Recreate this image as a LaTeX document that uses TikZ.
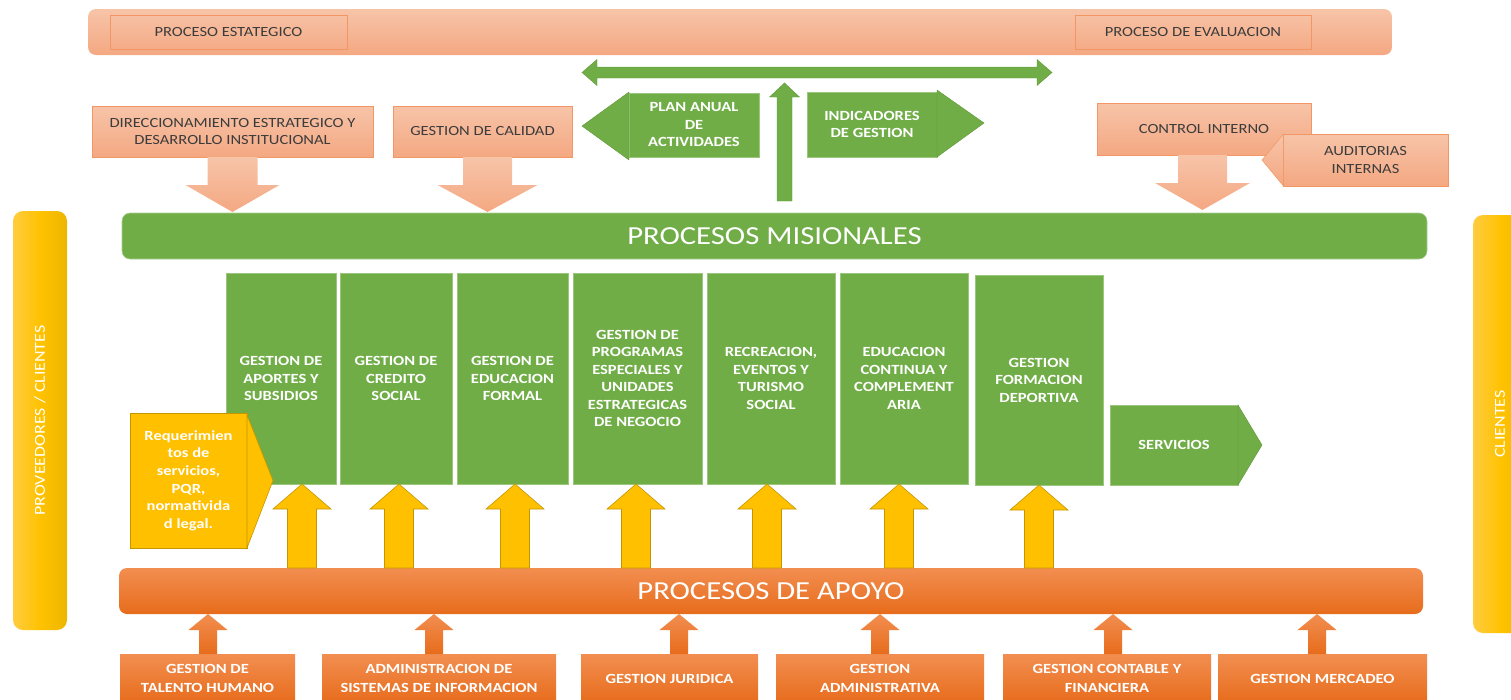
\documentclass[tikz,border=0pt]{standalone}
\usepackage{fontspec}
\setmainfont{Carlito}[FakeStretch=1.18]
\usetikzlibrary{calc}
\definecolor{grn}{RGB}{112,173,71}
\definecolor{grnE}{RGB}{96,152,58}
\definecolor{ylw}{RGB}{255,192,0}
\definecolor{ylwE}{RGB}{196,150,0}
\definecolor{salT}{RGB}{247,196,168}
\definecolor{salB}{RGB}{244,168,130}
\definecolor{salE}{RGB}{241,150,100}
\definecolor{orT}{RGB}{242,142,80}
\definecolor{orB}{RGB}{231,108,28}
\definecolor{dtx}{RGB}{60,60,60}
\definecolor{yL}{RGB}{255,204,64}
\definecolor{yM}{RGB}{255,194,0}
\definecolor{yR}{RGB}{236,182,0}
\newcommand\vblock[6]{\path[#1] ($(#2)+(-#4,0)$) -- ($(#3)+(-#4,#6)$) -- ($(#3)+(-#5,#6)$) -- (#3) -- ($(#3)+(#5,#6)$) -- ($(#3)+(#4,#6)$) -- ($(#2)+(#4,0)$) -- cycle;}
% \bx{style}{name}{x1}{y1}{x2}{y2}{text}
\newcommand\bx[7]{\node[#1,minimum width={#5pt-#3pt},minimum height={#6pt-#4pt}] (#2) at ({(#3+#5)/2},{(#4+#6)/2}) {#7};}
\begin{document}
\begin{tikzpicture}[x=1pt,y=-1pt,
  every node/.style={inner sep=0pt,outer sep=0pt,align=center},
  salbox/.style={top color=salT,bottom color=salB,draw=salE,line width=0.5pt,text=dtx,font=\fontsize{14}{17.5}\selectfont},
  gbox/.style={fill=grn,draw=grn!70!white,line width=0.5pt,text=white,font=\bfseries\fontsize{14}{17.5}\selectfont},
  ybox/.style={fill=ylw,draw=ylwE,line width=0.6pt,text=white,font=\bfseries\fontsize{14}{17.6}\selectfont},
  obox/.style={top color=orT,bottom color=orB,text=white,font=\bfseries\fontsize{14}{18.5}\selectfont},
  salarr/.style={top color=salT,bottom color=salB},
  orarr/.style={top color=orT,bottom color=orB},
  yarr/.style={fill=ylw,draw=ylwE,line width=0.6pt},
  garr/.style={fill=grn,draw=grnE,line width=0.4pt},
  bigt/.style={text=white,font=\fontsize{26}{30}\selectfont},
  sidet/.style={text=white,font=\fontsize{15.2}{18}\selectfont},
  ybar/.style={left color=yL,right color=yR,middle color=yM,rounded corners=10pt},
  inbox/.style={draw=salE,line width=0.6pt,text=dtx,font=\fontsize{14}{17}\selectfont},
]
\useasboundingbox (0,0) rectangle (1511,699);

% strategic bar
\bx{salbox,draw=none,rounded corners=8pt}{topbar}{88}{9}{1392}{55}{}
\bx{inbox}{pest}{110}{15}{347}{49}{PROCESO ESTATEGICO}
\bx{inbox}{peval}{1075}{15}{1311}{49}{PROCESO DE EVALUACION}

% double arrow
\coordinate (dl) at (582,72.5);
\coordinate (dr) at (1052,72.5);
\path[garr] (dl) -- ++(15,-13) -- ++(0,7.5) -- ($(dr)+(-15,-5.5)$) -- ++(0,-7.5) -- (dr) -- ++(-15,13) -- ++(0,-7.5) -- ($(dl)+(15,5.5)$) -- ++(0,7.5) -- cycle;

% up arrow
\coordinate (ub) at (784.5,201);
\coordinate (ut) at (784.5,83);
\vblock{garr}{ub}{ut}{7.5}{15}{14}

% plan / indicadores
\bx{gbox}{plan}{629}{93}{759}{157}{PLAN ANUAL\\DE\\ACTIVIDADES}
\path[garr] ($(plan.north west)+(0,-1)$) -- ($(plan.west)+(-47,1)$) -- ($(plan.south west)+(0,3)$) -- cycle;
\bx{gbox}{ind}{807}{92}{937}{157}{INDICADORES\\DE GESTION}
\path[garr] ($(ind.north east)+(0,-2)$) -- ($(ind.east)+(47,-1.5)$) -- (ind.south east) -- cycle;

% strategic process boxes
\bx{salbox}{dir}{92}{106}{373}{157}{DIRECCIONAMIENTO ESTRATEGICO Y\\DESARROLLO INSTITUCIONAL}
\bx{salbox}{cal}{393}{106}{572}{157}{GESTION DE CALIDAD}
\bx{salbox}{ctrl}{1097}{103}{1311}{155}{CONTROL INTERNO}
\bx{salbox}{aud}{1283}{134}{1448}{186}{AUDITORIAS\\INTERNAS}
\path[salarr] ($(aud.north west)+(0,0.5)$) -- ($(aud.west)+(-21,0)$) -- ($(aud.south west)+(0,-0.5)$) -- cycle;
\draw[salE,line width=0.5pt] ($(aud.north west)+(0,0.5)$) -- ($(aud.west)+(-21,0)$) -- ($(aud.south west)+(0,-0.5)$);

% misionales bar
\bx{fill=grn,draw=grn!60!white,line width=0.6pt,rounded corners=8pt,bigt}{mis}{122}{213}{1427}{259}{PROCESOS MISIONALES}

% salmon down arrows
\coordinate (d1b) at (dir.south);
\coordinate (d1t) at ($(d1b |- mis.north)+(0,-1)$);
\vblock{salarr}{d1b}{d1t}{25}{47}{-27}
\coordinate (d2b) at ($(cal.south)+(5,0)$);
\coordinate (d2t) at ($(d2b |- mis.north)+(0,-1)$);
\vblock{salarr}{d2b}{d2t}{24.5}{50}{-27}
\coordinate (d3b) at ($(ctrl.south)+(-1.5,0)$);
\coordinate (d3t) at ($(d3b |- mis.north)+(0,-3)$);
\vblock{salarr}{d3b}{d3t}{24.5}{47.5}{-27}

% side bars
\bx{ybar}{lbar}{13}{211}{67}{630}{}
\node[rotate=90,sidet] (ltx) at (lbar.center) {PROVEEDORES / CLIENTES};
\bx{ybar}{rbar}{1473}{215}{1530}{633}{}
\node[rotate=90,sidet] (rtx) at ($(rbar.center)+(-1.5,0)$) {CLIENTES};

% mission boxes
\bx{gbox}{m1}{226}{273}{336}{484}{GESTION DE\\APORTES Y\\SUBSIDIOS}
\bx{gbox}{m2}{340}{273}{452}{484}{GESTION DE\\CREDITO\\SOCIAL}
\bx{gbox}{m3}{457}{273}{568}{484}{GESTION DE\\EDUCACION\\FORMAL}
\bx{gbox}{m4}{573}{273}{702}{484}{GESTION DE\\PROGRAMAS\\ESPECIALES Y\\UNIDADES\\ESTRATEGICAS\\DE NEGOCIO}
\bx{gbox}{m5}{707}{273}{835}{484}{RECREACION,\\EVENTOS Y\\TURISMO\\SOCIAL}
\bx{gbox}{m6}{840}{273}{968}{484}{EDUCACION\\CONTINUA Y\\COMPLEMENT\\ARIA}
\bx{gbox}{m7}{975}{275}{1103}{485}{GESTION\\FORMACION\\DEPORTIVA}
\bx{gbox}{serv}{1110}{405}{1238}{485}{SERVICIOS}
\path[garr] (serv.north east) -- ($(serv.east)+(24,0)$) -- (serv.south east) -- cycle;

% requerimientos
\bx{ybox}{req}{130}{413}{247}{548}{Requerimien\\tos de\\servicios,\\PQR,\\normativida\\d legal.}
\path[yarr] ($(req.north east)+(0,2)$) -- ($(req.east)+(26,0)$) -- (req.south east) -- cycle;

% apoyo bar
\bx{top color=orT,bottom color=orB,rounded corners=8pt,bigt}{apo}{119}{568}{1423}{614}{PROCESOS DE APOYO}

% yellow up arrows
\foreach \xx/\bn [count=\i] in {302/m1,399/m2,515/m3,636/m4,767/m5,899/m6,1039/m7}{
  \coordinate (ya\i) at (\xx,0 |- apo.north);
  \coordinate (yt\i) at (ya\i |- \bn.south);
  \vblock{yarr}{ya\i}{yt\i}{14.5}{29}{25}
}

% support boxes
\bx{obox}{b1}{120}{654}{295}{703}{GESTION DE\\TALENTO HUMANO}
\bx{obox}{b2}{322}{654}{556}{703}{ADMINISTRACION DE\\SISTEMAS DE INFORMACION}
\bx{obox}{b3}{581}{654}{758}{703}{GESTION JURIDICA}
\bx{obox}{b4}{776}{654}{984}{703}{GESTION\\ADMINISTRATIVA}
\bx{obox}{b5}{1003}{654}{1211}{703}{GESTION CONTABLE Y\\FINANCIERA}
\bx{obox}{b6}{1218}{654}{1427}{703}{GESTION MERCADEO}

% orange up arrows
\foreach \xx/\bn [count=\i] in {208/b1,434/b2,679/b3,880/b4,1113/b5,1317/b6}{
  \coordinate (oa\i) at (\xx,0 |- \bn.north);
  \coordinate (ot\i) at (oa\i |- apo.south);
  \vblock{orarr}{oa\i}{ot\i}{9}{19.5}{16}
}
\end{tikzpicture}
\end{document}
